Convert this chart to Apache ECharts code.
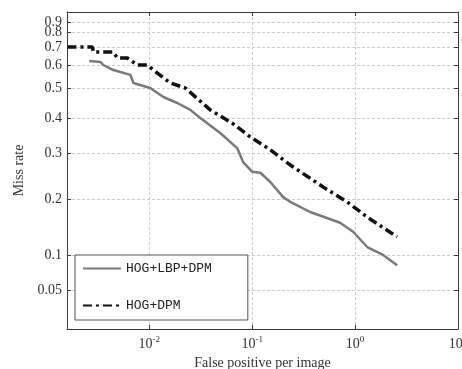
<!DOCTYPE html>
<html><head><meta charset="utf-8">
<script src="https://cdn.jsdelivr.net/npm/echarts@6/dist/echarts.min.js"></script>
<style>html,body{margin:0;padding:0;background:#fff}#c{width:462px;height:369px}</style>
</head><body><div id="c"></div>
<script>
// ---- data ----
const seriesNames = ['HOG+LBP+DPM', 'HOG+DPM'];
const lbpFppi = [0.00261,0.00334,0.00357,0.00447,0.00655,0.00700,0.0102,0.0137,0.0187,0.0250,0.0313,0.0489,0.0714,0.0818,0.100,0.120,0.150,0.200,0.234,0.366,0.714,0.957,1.31,1.87,2.56];
const lbpMiss = [0.622,0.617,0.600,0.578,0.557,0.522,0.500,0.470,0.450,0.427,0.400,0.357,0.314,0.280,0.259,0.257,0.237,0.204,0.195,0.177,0.158,0.142,0.115,0.101,0.086];
const dpmFppi = [0.0016,0.0028,0.00286,0.00447,0.00489,0.00611,0.00764,0.00957,0.01197,0.0160,0.0224,0.0391,0.0655,0.0957,0.150,0.234,0.350,0.489,0.836,1.31,2.56];
const dpmMiss = [0.700,0.700,0.672,0.672,0.639,0.639,0.600,0.600,0.565,0.522,0.500,0.427,0.383,0.346,0.309,0.274,0.248,0.226,0.195,0.168,0.133];
const xTickExponents = [-2, -1, 0, 1];
const yTickValues = [0.05, 0.1, 0.2, 0.3, 0.4, 0.5, 0.6, 0.7, 0.8, 0.9, 1];
const yTickLabels = ['0.05','0.1','0.2','0.3','0.4','0.5','0.6','0.7','0.8','0.9','1'];

// ---- axis scale definitions (scanned, non-uniform miss-rate axis) ----
const xMinExp = -2.8, xMaxExp = 1;
const yWarpKnots = [39, 73.5, 130, 176, 211, 241, 264, 282, 296.5, 307, 317];
const yAxisTop = 317;
function warp(v) {
  const t = yTickValues, k = yWarpKnots;
  if (v <= t[0]) return k[0] + (v - t[0]) * (k[1] - k[0]) / (t[1] - t[0]);
  for (let i = 0; i < t.length - 1; i++) {
    if (v <= t[i + 1]) return k[i] + (v - t[i]) * (k[i + 1] - k[i]) / (t[i + 1] - t[i]);
  }
  return k[k.length - 1];
}
const toPts = (xs, ys) => xs.map((x, i) => [Math.log10(x), warp(ys[i])]);
const yTickCoords = yTickValues.map(warp);
function yLabel(u) {
  let best = 0, d = 1e9;
  yTickCoords.forEach((c, i) => { if (Math.abs(c - u) < d) { d = Math.abs(c - u); best = i; } });
  return yTickLabels[best];
}

const serif = '"Liberation Serif","DejaVu Serif",serif';
const frame = { show: true, onZero: false, lineStyle: { color: '#3a3a3a', width: 1 } };
const ticks = (vals) => ({ show: true, inside: true, length: 4, customValues: vals, lineStyle: { color: '#3a3a3a' } });
const split = { show: true, lineStyle: { color: '#cfcfcf', width: 1, type: [3, 2] } };

const chart = echarts.init(document.getElementById('c'), null, { renderer: 'canvas' });
chart.setOption({
  backgroundColor: '#ffffff',
  animation: false,
  grid: { left: 67, right: 4, top: 12, bottom: 40, outerBoundsMode: 'none', containLabel: false },
  xAxis: [{
    type: 'value', min: xMinExp, max: xMaxExp, position: 'bottom',
    axisLine: frame, axisTick: ticks(xTickExponents), splitLine: split,
    axisLabel: {
      customValues: xTickExponents, margin: 6,
      formatter: v => '{b|10}{s|' + v + '}',
      rich: {
        b: { fontFamily: serif, fontSize: 14, color: '#333' },
        s: { fontFamily: serif, fontSize: 9, color: '#333', padding: [0, 0, 9, 0] }
      }
    },
    name: 'False positive per image', nameLocation: 'middle', nameGap: 21,
    nameTextStyle: { fontFamily: serif, fontSize: 14, color: '#333' }
  }, {
    type: 'value', min: xMinExp, max: xMaxExp, position: 'top',
    axisLine: frame, axisTick: ticks(xTickExponents), splitLine: { show: false },
    axisLabel: { show: false }
  }],
  yAxis: [{
    type: 'value', min: 0, max: yAxisTop, position: 'left',
    axisLine: frame, axisTick: ticks(yTickCoords), splitLine: split,
    axisLabel: {
      customValues: yTickCoords, margin: 5, formatter: v => yLabel(v),
      fontFamily: serif, fontSize: 14, color: '#333'
    },
    name: 'Miss rate', nameLocation: 'middle', nameGap: 38, nameRotate: 90,
    nameTextStyle: { fontFamily: serif, fontSize: 14, color: '#333' }
  }, {
    type: 'value', min: 0, max: yAxisTop, position: 'right',
    axisLine: frame, axisTick: ticks(yTickCoords), splitLine: { show: false },
    axisLabel: { show: false }
  }],
  legend: {
    orient: 'vertical', left: 75, top: 255,
    data: seriesNames,
    itemWidth: 38, itemHeight: 14, itemGap: 24,
    padding: [7, 36, 8, 7],
    itemStyle: { opacity: 0 },
    borderColor: '#555', borderWidth: 1, backgroundColor: '#fff',
    textStyle: { fontFamily: '"Liberation Mono","DejaVu Sans Mono",monospace', fontSize: 13, color: '#222' }
  },
  series: [{
    name: seriesNames[0], type: 'line', symbol: 'none',
    data: toPts(lbpFppi, lbpMiss),
    lineStyle: { color: '#7a7a7a', width: 2.5 },
    itemStyle: { color: '#7a7a7a' }
  }, {
    name: seriesNames[1], type: 'line', symbol: 'none',
    data: toPts(dpmFppi, dpmMiss),
    lineStyle: { color: '#111', width: 3.5, type: [9, 4, 3, 4] },
    itemStyle: { color: '#111' }
  }]
});
</script>
</body></html>
